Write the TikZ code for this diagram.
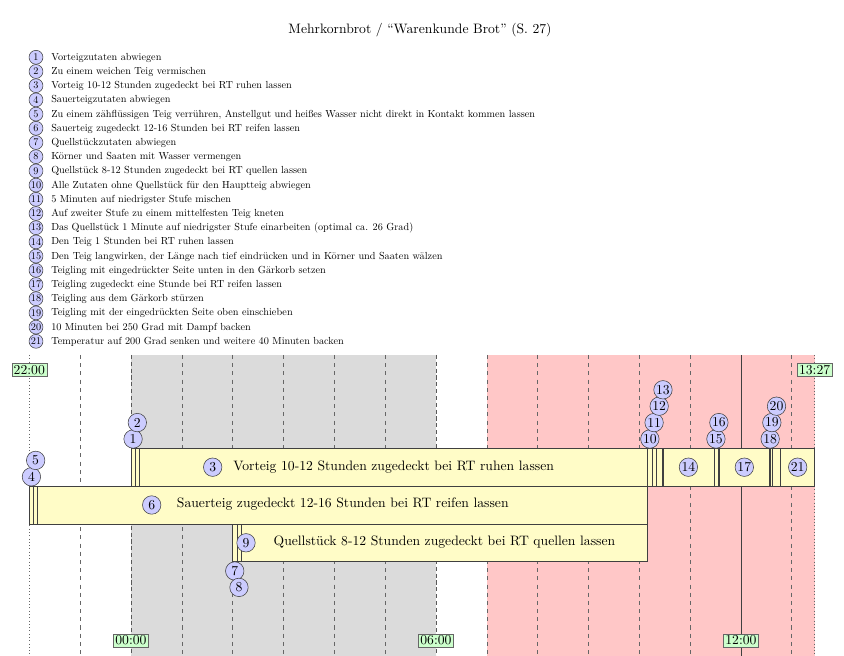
\documentclass[tikz,border=0pt]{standalone}
\usepackage{graphicx}
\newcommand\legsc[1]{\scalebox{0.75}{#1}}
\tikzset{
  num/.style={circle, draw=black!75, fill=blue!20, inner sep=0pt, minimum size=13.5pt, font=\normalsize},
  lnum/.style={circle, draw=black!75, fill=blue!20, inner sep=0pt, minimum size=10.2pt, font=\normalsize},
  ltext/.style={anchor=mid west, font=\normalsize, inner sep=0pt},
  stepbar/.style={draw=black!75, fill=yellow!22},
  hourline/.style={black!60, dashed},
  timelabel/.style={draw=black!60, fill=green!20, inner sep=1.4pt, font=\normalsize},
}
\newcommand\legitem[2]{%
  \node[lnum] (l#1) at (36,{57.3+14.2*(#1-1)}) {\legsc{#1}};
  \node[ltext] (lt#1) at (51,{57.3+14.2*(#1-1)}) {\legsc{#2}};
}
\begin{document}
\begin{tikzpicture}[x=0.732pt, y=-0.732pt]
\useasboundingbox (0,0) rectangle (844,656);
% title
\node (title) at (420,30) {Mehrkornbrot / “Warenkunde Brot” (S. 27)};
% legend
\legitem{1}{Vorteigzutaten abwiegen}
\legitem{2}{Zu einem weichen Teig vermischen}
\legitem{3}{Vorteig 10-12 Stunden zugedeckt bei RT ruhen lassen}
\legitem{4}{Sauerteigzutaten abwiegen}
\legitem{5}{Zu einem zähflüssigen Teig verrühren, Anstellgut und heißes Wasser nicht direkt in Kontakt kommen lassen}
\legitem{6}{Sauerteig zugedeckt 12-16 Stunden bei RT reifen lassen}
\legitem{7}{Quellstückzutaten abwiegen}
\legitem{8}{Körner und Saaten mit Wasser vermengen}
\legitem{9}{Quellstück 8-12 Stunden zugedeckt bei RT quellen lassen}
\legitem{10}{Alle Zutaten ohne Quellstück für den Hauptteig abwiegen}
\legitem{11}{5 Minuten auf niedrigster Stufe mischen}
\legitem{12}{Auf zweiter Stufe zu einem mittelfesten Teig kneten}
\legitem{13}{Das Quellstück 1 Minute auf niedrigster Stufe einarbeiten (optimal ca. 26 Grad)}
\legitem{14}{Den Teig 1 Stunden bei RT ruhen lassen}
\legitem{15}{Den Teig langwirken, der Länge nach tief eindrücken und in Körner und Saaten wälzen}
\legitem{16}{Teigling mit eingedrückter Seite unten in den Gärkorb setzen}
\legitem{17}{Teigling zugedeckt eine Stunde bei RT reifen lassen}
\legitem{18}{Teigling aus dem Gärkorb stürzen}
\legitem{19}{Teigling mit der eingedrückten Seite oben einschieben}
\legitem{20}{10 Minuten bei 250 Grad mit Dampf backen}
\legitem{21}{Temperatur auf 200 Grad senken und weitere 40 Minuten backen}
% backgrounds
\fill[black!14] (130.96,355) rectangle (435.94,656);
\fill[red!22] (486.77,355) rectangle (814.63,656);
% timeline in minutes after 22:00
\begin{scope}[xshift=21.448pt, x=0.62013pt]
  \foreach \m in {60,180,240,300,360,420,540,600,660,720,780,900}
    \draw[hourline] (\m,355) -- (\m,656);
  \foreach \m in {120,480}
    \draw[black!65, densely dashed] (\m,355) -- (\m,656);
  \draw[black!75] (840,355) -- (840,656);
  \foreach \m in {0,927}
    \draw[black!60, dotted] (\m,355) -- (\m,656);
  % row 1
  \foreach \a/\b in {120/125,125/130,130/730,730/735,735/740,740/747,747/748,748/808,808/813,813/814,814/874,874/875,875/877,877/887,887/927}
    \draw[stepbar] (\a,448.3) rectangle (\b,486.1);
  % row 2
  \foreach \a/\b in {0/5,5/10,10/730}
    \draw[stepbar] (\a,486.1) rectangle (\b,523.9);
  % row 3
  \foreach \a/\b in {240/245,245/250,250/730}
    \draw[stepbar] (\a,523.9) rectangle (\b,561.7);
  % stacked markers
  \node[num] (s1) at (122.5,439) {1};
  \node[num] (s2) at (127.5,422.6) {2};
  \node[num] (s4) at (2.5,476.8) {4};
  \node[num] (s5) at (7.5,460.4) {5};
  \node[num] (s7) at (242.5,571) {7};
  \node[num] (s8) at (247.5,587.4) {8};
  \node[num] (s10) at (732.5,439) {10};
  \node[num] (s11) at (737.5,422.6) {11};
  \node[num] (s12) at (743.5,406.2) {12};
  \node[num] (s13) at (748,389.8) {13};
  \node[num] (s15) at (810.5,439) {15};
  \node[num] (s16) at (814,422.6) {16};
  \node[num] (s18) at (874.5,439) {18};
  \node[num] (s19) at (876.5,422.6) {19};
  \node[num] (s20) at (882,406.2) {20};
  \node[num] (s14) at (778,467.2) {14};
  \node[num] (s17) at (844,467.2) {17};
  \node[num] (s21) at (907,467.2) {21};
  % time labels
  \node[timelabel] (t2200) at (0,370) {22:00};
  \node[timelabel] (t1327) at (927,370) {13:27};
  \node[timelabel] (t0000) at (120,640.5) {00:00};
  \node[timelabel] (t0600) at (480,640.5) {06:00};
  \node[timelabel] (t1200) at (840,640.5) {12:00};
\end{scope}
% long step labels
\node[num] (s3) at (212.7,467.2) {3};
\node[anchor=mid, inner sep=0pt] (txt3) at (393.6,467.2) {Vorteig 10-12 Stunden zugedeckt bei RT ruhen lassen};
\node[num] (s6) at (151.7,505) {6};
\node[anchor=mid, inner sep=0pt] (txt6) at (342.8,505) {Sauerteig zugedeckt 12-16 Stunden bei RT reifen lassen};
\node[num] (s9) at (246,542.8) {9};
\node[anchor=mid, inner sep=0pt] (txt9) at (444.4,542.8) {Quellstück 8-12 Stunden zugedeckt bei RT quellen lassen};
\end{tikzpicture}
\end{document}
